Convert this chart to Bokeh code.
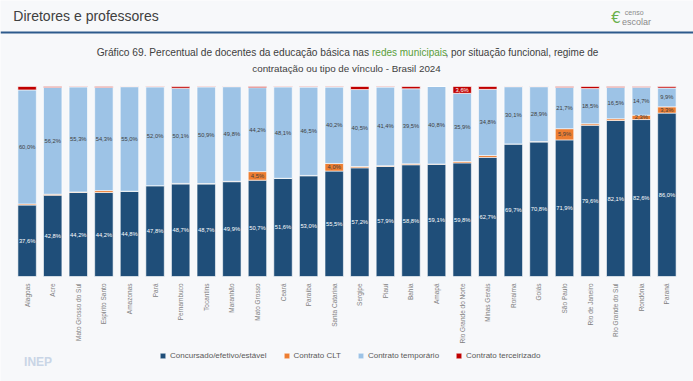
import math
from bokeh.plotting import figure
from bokeh.models import ColumnDataSource, Label, Legend, LegendItem, Span, FactorRange
from bokeh.core.properties import value
from bokeh.embed import file_html
from bokeh.resources import INLINE

states = ["Alagoas", "Acre", "Mato Grosso do Sul", "Espírito Santo", "Amazonas", "Pará",
          "Pernambuco", "Tocantins", "Maranhão", "Mato Grosso", "Ceará", "Paraíba",
          "Santa Catarina", "Sergipe", "Piauí", "Bahia", "Amapá", "Rio Grande do Norte",
          "Minas Gerais", "Roraima", "Goiás", "São Paulo", "Rio de Janeiro",
          "Rio Grande do Sul", "Rondônia", "Paraná"]
concursado = [37.6, 42.8, 44.2, 44.2, 44.8, 47.8, 48.7, 48.7, 49.9, 50.7, 51.6, 53.0, 55.5,
              57.2, 57.9, 58.8, 59.1, 59.8, 62.7, 69.7, 70.8, 71.9, 79.6, 82.1, 82.6, 86.0]
clt = [0.6, 0.5, 0.3, 1.0, 0.1, 0.0, 0.3, 0.2, 0.2, 4.5, 0.1, 0.2, 4.0,
       0.7, 0.4, 0.5, 0.1, 0.7, 1.0, 0.1, 0.2, 5.9, 0.8, 0.9, 2.3, 3.3]
temporario = [60.0, 56.2, 55.3, 54.3, 55.0, 52.0, 50.1, 50.9, 49.8, 44.2, 48.1, 46.5, 40.2,
              40.5, 41.4, 39.5, 40.8, 35.9, 34.8, 30.1, 28.9, 21.7, 18.5, 16.5, 14.7, 9.9]
terceirizado = [1.8, 0.5, 0.2, 0.5, 0.1, 0.2, 0.9, 0.2, 0.1, 0.6, 0.2, 0.3, 0.3,
                1.6, 0.3, 1.2, 0.0, 3.6, 1.5, 0.1, 0.1, 0.5, 1.1, 0.5, 0.4, 0.8]
series_names = ["Concursado/efetivo/estável", "Contrato CLT", "Contrato temporário",
                "Contrato terceirizado"]
colors = ["#1f4e79", "#ed7d31", "#9dc3e6", "#c00000"]

FONT = "Liberation Sans"
W, H = 693, 381
PAD = 0.54          # category padding (absolute, split on both sides)
PX_PER_UNIT = 1.9
BASE = 276          # pixel row of the 0 % line
PITCH = W / (len(states) + PAD)


def fmt(v):
    return f"{v:.1f}".replace(".", ",") + "%"


def px(pix_x):
    return pix_x / PITCH - PAD / 2


def py(pix_y):
    return (BASE - pix_y) / PX_PER_UNIT


src = ColumnDataSource(dict(state=states, c=concursado, clt=clt, t=temporario, terc=terceirizado))

p = figure(x_range=FactorRange(*states, range_padding=PAD, range_padding_units="absolute"),
           y_range=(py(H), py(0)),
           width=W, height=H, output_backend="svg", toolbar_location=None,
           x_axis_location=None, y_axis_location=None,
           min_border_left=0, min_border_right=0, min_border_top=0, min_border_bottom=0)
p.background_fill_color = "#f7f8fa"
p.border_fill_color = "#f7f8fa"
p.outline_line_color = None
p.grid.visible = False

rs = p.vbar_stack(["c", "clt", "t", "terc"], x="state", width=0.72, color=colors,
                  source=src, line_color="white", line_width=0.6)

# category labels (vertical, below the bars)
p.text(x="state", y=py(283), text="state", source=src, angle=math.pi / 2,
       text_align="right", text_baseline="middle", text_font=value(FONT),
       text_font_size="6.5px", text_color="#7f7f7f")

# data labels
xs_c, ys_c, tx_c = [], [], []
xs_t, ys_t, tx_t = [], [], []
xs_o, ys_o, tx_o = [], [], []
xs_r, ys_r, tx_r = [], [], []
for s, c, o, t, r in zip(states, concursado, clt, temporario, terceirizado):
    xs_c.append(s); ys_c.append(c / 2); tx_c.append(fmt(c))
    xs_t.append(s); ys_t.append(c + o + t / 2); tx_t.append(fmt(t))
    if o >= 2:
        xs_o.append(s); ys_o.append(c + o / 2); tx_o.append(fmt(o))
    if r >= 3:
        xs_r.append(s); ys_r.append(c + o + t + r / 2); tx_r.append(fmt(r))

for xs, ys, tx, col in [(xs_c, ys_c, tx_c, "white"), (xs_t, ys_t, tx_t, "#404040"),
                        (xs_o, ys_o, tx_o, "#404040"), (xs_r, ys_r, tx_r, "white")]:
    p.text(x=xs, y=ys, text=tx, text_color=col, text_font_size="5.8px",
           text_align="center", text_baseline="middle", text_font=value(FONT))

legend = Legend(items=[LegendItem(label=n, renderers=[r]) for n, r in zip(series_names, rs)],
                orientation="horizontal", location=(159, 21),
                label_text_font_size="8px", label_text_color="#595959",
                label_text_font=FONT, glyph_width=7, glyph_height=7,
                spacing=16, padding=0, margin=0, label_standoff=4,
                background_fill_alpha=0, border_line_color=None)
p.add_layout(legend, "center")

p.add_layout(Label(x=px(6), y=py(15), text="Diretores e professores", text_font=FONT,
                   text_font_size="14px", text_color="#404040", text_baseline="middle"))
p.add_layout(Span(location=py(32), dimension="width", line_color="#2e5a8c", line_width=2))

p.add_layout(Label(x=px(369), y=py(52), text="Gráfico 69. Percentual de docentes da educação básica nas",
                   text_font=FONT, text_font_size="10.2px", text_color="#404040",
                   text_baseline="middle", text_align="right"))
p.add_layout(Label(x=px(372), y=py(52), text="redes municipais",
                   text_font=FONT, text_font_size="10px", text_color="#5a9e3a",
                   text_baseline="middle", text_align="left"))
p.add_layout(Label(x=px(447), y=py(52), text=", por situação funcional, regime de",
                   text_font=FONT, text_font_size="10px", text_color="#404040",
                   text_baseline="middle", text_align="left"))
p.add_layout(Label(x=px(346), y=py(68), text="contratação ou tipo de vínculo - Brasil 2024",
                   text_font=FONT, text_font_size="9.8px", text_color="#404040",
                   text_baseline="middle", text_align="center"))

# logos
p.add_layout(Label(x=px(616), y=py(17), text="€", text_font="DejaVu Sans",
                   text_font_size="15px", text_color="#6ab04c", text_baseline="middle"))
p.add_layout(Label(x=px(630), y=py(12), text="censo", text_font=FONT,
                   text_font_size="7px", text_color="#8a8a8a", text_baseline="middle"))
p.add_layout(Label(x=px(627), y=py(21), text="escolar", text_font=FONT,
                   text_font_size="9px", text_color="#8a8a8a", text_baseline="middle"))
p.add_layout(Label(x=px(17), y=py(361), text="INEP", text_font=FONT,
                   text_font_size="12px", text_font_style="bold", text_color="#c9d5e6",
                   text_baseline="middle"))

open("out.html", "w").write(file_html(p, INLINE))
